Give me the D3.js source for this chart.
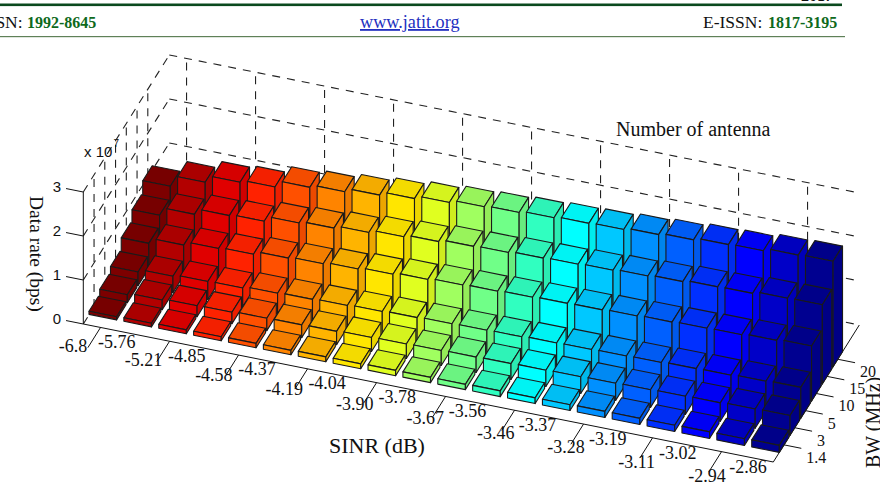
<!DOCTYPE html>
<html>
<head>
<meta charset="utf-8">
<style>
html,body{margin:0;padding:0;background:#fff;overflow:hidden}
svg{display:block}
</style>
<script src="https://cdn.jsdelivr.net/npm/d3@7/dist/d3.min.js"></script>
</head>
<body>
<svg id="chart" width="880" height="494"></svg>
<script>
// SINR categories along the front edge of the floor
const sinrLabels = ["-6.8","-5.76","-5.21","-4.85","-4.58","-4.37","-4.19","-4.04","-3.90","-3.78",
  "-3.67","-3.56","-3.46","-3.37","-3.28","-3.19","-3.11","-3.02","-2.94","-2.86"];
// Bandwidth categories along the depth axis, nearest first
const bwLabels = ["1.4","3","5","10","15","20"];
const zTicks = [0,1,2,3];

// Data rate in units of 10^7 bps, one list per bandwidth
const bw1_4 = [.07,.08,.09,.09,.10,.10,.11,.11,.12,.12,.12,.13,.13,.13,.14,.14,.14,.15,.15,.16];
const bw3   = [.18,.22,.25,.26,.28,.29,.30,.32,.33,.34,.35,.36,.37,.38,.39,.40,.41,.42,.44,.45];
const bw5   = [.31,.37,.41,.42,.46,.48,.50,.52,.54,.56,.57,.58,.60,.61,.62,.63,.65,.66,.68,.70];
const bw10  = [.57,.69,.77,.80,.87,.90,.94,.98,1.02,1.05,1.07,1.09,1.11,1.12,1.14,1.16,1.18,1.19,1.22,1.25];
const bw15  = [.82,1.00,1.13,1.16,1.28,1.32,1.38,1.44,1.49,1.54,1.56,1.59,1.61,1.63,1.66,1.69,1.73,1.74,1.79,1.80];
const bw20  = [1.09,1.34,1.50,1.55,1.70,1.76,1.84,1.92,1.99,2.05,2.08,2.12,2.15,2.17,2.21,2.25,2.30,2.32,2.38,2.40];
const rows = [bw1_4,bw3,bw5,bw10,bw15,bw20];

// One colour per SINR column
const columnColors = ["#7d0000","#b30000","#e00000","#ff2200","#ff5000","#ff8400","#ffb400","#ffe600",
  "#e0ff20","#a0ff60","#70ff88","#30ffc0","#00ffff","#00c8ff","#0090ff","#0060ff","#0030ff","#0000ff","#0000c8","#000090"];

const svg = d3.select("#chart");

// Oblique projection of the plot box onto the page
const origin = [83.3, 324];
const xToPx = d3.scaleLinear([0,20],[0,690]), xToPy = d3.scaleLinear([0,20],[0,138]);
const yToPx = d3.scaleLinear([0,8],[0,86]),  yToPy = d3.scaleLinear([0,8],[0,-137]);
const zToPy = d3.scaleLinear([0,3],[0,-132]);
const project = (x,y,z) => [origin[0]+xToPx(x)+yToPx(y), origin[1]+xToPy(x)+yToPy(y)+zToPy(z)];
const line3 = d3.line().x(d=>project(...d)[0]).y(d=>project(...d)[1]);
const closed3 = pts => line3(pts)+"Z";

// Column centres in box units; half sizes of a bar
const barCenter = d3.scaleLinear([0,19],[0.39,19.6]);
const halfW = 0.4, halfD = 0.44;

// Page header band
const header = svg.append("g");
header.append("rect").attr("x",0).attr("y",3.5).attr("width",842).attr("height",2.6).attr("fill","#0b4a1e");
header.append("rect").attr("x",0).attr("y",36).attr("width",845).attr("height",1.2).attr("fill","#5f8058");
const serif = "'Liberation Serif','Times New Roman',serif";
header.append("text").attr("x",27).attr("y",28).attr("text-anchor","end")
  .attr("font-family",serif).attr("font-size",17.5).attr("fill","#111").text("ISSN: ").attr("xml:space","preserve");
header.append("text").attr("x",27).attr("y",28).attr("font-family",serif).attr("font-weight","bold")
  .attr("font-size",16).attr("fill","#0e6a1c").text("1992-8645");
header.append("text").attr("x",360).attr("y",28).attr("font-family",serif).attr("font-size",18.2)
  .attr("fill","#2230c0").attr("text-decoration","underline").text("www.jatit.org");
header.append("text").attr("x",703).attr("y",28).attr("font-family",serif).attr("font-size",17.5)
  .attr("fill","#111").text("E-ISSN:");
header.append("text").attr("x",768).attr("y",28).attr("font-family",serif).attr("font-weight","bold")
  .attr("font-size",16).attr("fill","#0e6a1c").text("1817-3195");
header.append("text").attr("x",833).attr("y",1.4).attr("text-anchor","end").attr("font-family",serif)
  .attr("font-weight","bold").attr("font-size",16).attr("fill","#111").text("2017");

// Dashed grid on the back and left walls
const gridPaths = [];
zTicks.forEach(z => {
  gridPaths.push([[0,0,z],[0,8,z]]);
  gridPaths.push([[0,8,z],[20,8,z]]);
});
d3.range(10).forEach(k => gridPaths.push([[0.5+2*k,8,0],[0.5+2*k,8,3]]));
d3.range(1,7).forEach(r => gridPaths.push([[0,r,0],[0,r,3]]));
svg.append("g").selectAll("path").data(gridPaths).join("path")
  .attr("d",d=>line3(d)).attr("fill","none").attr("stroke","#222").attr("stroke-width",1.1)
  .attr("stroke-dasharray","8,7");

// Solid axis lines
const axisPaths = [[[0,0,0],[20,0,0]],[[20,0,0],[20,8,0]],[[0,0,0],[0,0,3]]];
d3.range(10).forEach(k => axisPaths.push([[0.5+2*k,0,0],[0.5+2*k,-1.18,0]]));
d3.range(1,7).forEach(r => axisPaths.push([[20,r,0],[20.5,r,0]]));
zTicks.forEach(z => axisPaths.push([[0,0,z],[-0.5,0,z]]));
svg.append("g").selectAll("path").data(axisPaths).join("path")
  .attr("d",d=>line3(d)).attr("fill","none").attr("stroke","#111").attr("stroke-width",1);

// Bars, painted from the back row forward and left to right within a row
const bars = [];
d3.range(rows.length-1,-1,-1).forEach(r => {
  rows[r].forEach((v,c) => bars.push({r:r+1,c,v}));
});
const barG = svg.append("g").selectAll("g").data(bars).join("g");
const shade = (c,k) => d3.rgb(c).darker(k).formatHex();
const faces = d => {
  const x0 = barCenter(d.c)-halfW, x1 = barCenter(d.c)+halfW, y0 = d.r-halfD, y1 = d.r+halfD;
  return [
    {pts:[[x0,y0,d.v],[x1,y0,d.v],[x1,y1,d.v],[x0,y1,d.v]], k:0.14},
    {pts:[[x0,y0,0],[x1,y0,0],[x1,y0,d.v],[x0,y0,d.v]], k:0},
    {pts:[[x1,y0,0],[x1,y1,0],[x1,y1,d.v],[x1,y0,d.v]], k:0.22}
  ].map(f => ({...f, color:columnColors[d.c]}));
};
barG.selectAll("path").data(faces).join("path")
  .attr("d",f=>closed3(f.pts)).attr("fill",f=>shade(f.color,f.k))
  .attr("stroke","#1a1a1a").attr("stroke-width",1.1).attr("stroke-linejoin","round");

// SINR labels alternate between two staggered rows
const lowerX = d3.scaleLinear([0,18],[73,707]), lowerY = d3.scaleLinear([0,18],[352,482]);
const upperX = d3.scaleLinear([1,19],[116.7,748]), upperY = d3.scaleLinear([1,19],[347.7,472.7]);
svg.append("g").selectAll("text").data(sinrLabels).join("text")
  .attr("x",(d,i)=>i%2?upperX(i):lowerX(i)).attr("y",(d,i)=>i%2?upperY(i):lowerY(i))
  .attr("text-anchor","middle").attr("font-family",serif).attr("font-size",18).attr("fill","#111")
  .text(d=>d);

// Bandwidth labels beyond the tick ends
svg.append("g").selectAll("text").data(bwLabels).join("text")
  .attr("x",(d,i)=>project(20.5,i+1,0)[0]+5).attr("y",(d,i)=>project(20.5,i+1,0)[1]+14.5)
  .attr("font-family",serif).attr("font-size",16).attr("fill","#111").text(d=>d);

// Data rate labels and exponent
const sans = "'Liberation Sans',Arial,sans-serif";
svg.append("g").selectAll("text").data(zTicks).join("text")
  .attr("x",57).attr("y",d=>project(0,0,d)[1]-0.5)
  .attr("text-anchor","middle").attr("font-family",sans).attr("font-size",15).attr("fill","#111").text(d=>d);
svg.append("text").attr("x",84).attr("y",157).attr("font-family",sans).attr("font-size",15).attr("fill","#111").text("x 10");
svg.append("text").attr("x",113.5).attr("y",146.5).attr("font-family",sans).attr("font-size",10).attr("fill","#111").text("7");

// Axis and annotation titles
svg.append("text").attr("x",616).attr("y",136).attr("font-family",serif).attr("font-size",20).attr("fill","#111").text("Number of antenna");
svg.append("text").attr("x",329).attr("y",453).attr("font-family",serif).attr("font-size",22).attr("fill","#111").text("SINR (dB)");
svg.append("text").attr("transform","translate(30,196) rotate(90)").attr("font-family",serif).attr("font-size",19.5).attr("fill","#111").text("Data rate (bps)");
svg.append("text").attr("transform","translate(880,468) rotate(-90)").attr("font-family",serif).attr("font-size",20).attr("fill","#111").text("BW (MHz)");
</script>
</body>
</html>
